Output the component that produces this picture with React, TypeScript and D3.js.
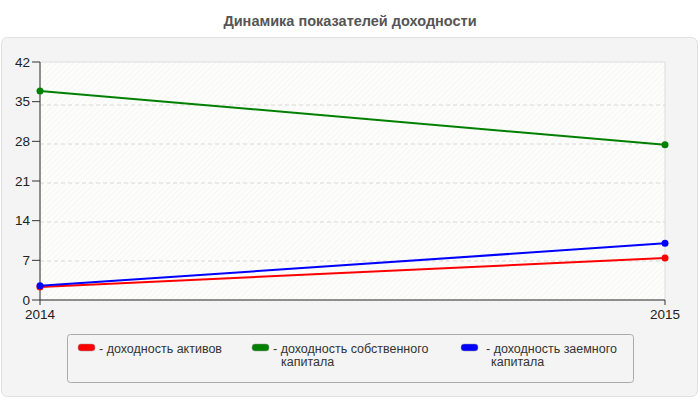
import React from "react";
import * as d3 from "d3";

const years = ["2014", "2015"];
const assetsReturn = [2.3, 7.4];
const equityReturn = [36.9, 27.4];
const debtReturn = [2.5, 10.0];
const yTicks = [0, 7, 14, 21, 28, 35, 42];

const seriesNames = [
  ["- доходность активов"],
  ["- доходность собственного", "капитала"],
  ["- доходность заемного", "капитала"],
];
const seriesColors = ["#ff0000", "#008000", "#0000ff"];
const seriesValues = [assetsReturn, equityReturn, debtReturn];

export default function App() {
  const W = 700, H = 400;
  const left = 40, right = 665, top = 62, bottom = 300;
  const x = d3.scalePoint<string>().domain(years).range([left, right]);
  const y = d3.scaleLinear().domain([0, 42]).range([bottom, top]);
  const yGrid = d3.scaleLinear().domain([0, 42]).range([bottom, top + 4]);
  const line = d3
    .line<number>()
    .x((_, i) => x(years[i]) as number)
    .y((d) => y(d));
  const font = "'Liberation Sans', Arial, sans-serif";
  const legendX = [78, 252, 461];
  const legendTextX = [99, 273, 486];
  const legendText2X = [99, 281, 491];

  return (
    <svg
      width={W}
      height={H}
      style={{ position: "absolute", left: 0, top: 0 }}
      fontFamily={font}
    >
      <defs>
        <pattern id="hatch" width="4" height="4" patternUnits="userSpaceOnUse" patternTransform="rotate(45)">
          <rect width="4" height="4" fill="#fdfdfb" />
          <line x1="0" y1="0" x2="0" y2="4" stroke="#efefed" strokeWidth="1" />
        </pattern>
      </defs>
      <rect x={0} y={0} width={W} height={H} fill="#ffffff" />
      <text x={350} y={26} textAnchor="middle" fontSize={14.5} fontWeight="bold" fill="#555">
        Динамика показателей доходности
      </text>
      <rect x={1.5} y={37.5} width={696} height={359} rx={6} fill="#f4f4f4" stroke="#e0e0e0" />
      <rect x={left} y={top} width={right - left} height={bottom - top} fill="url(#hatch)" stroke="#dddddd" />
      {yTicks.slice(1, -1).map((t) => (
        <line key={t} x1={left} x2={right} y1={yGrid(t)} y2={yGrid(t)} stroke="#d8d8d8" strokeDasharray="4,3" />
      ))}
      <line x1={left} x2={left} y1={top} y2={bottom} stroke="#333" />
      <line x1={left} x2={right} y1={bottom} y2={bottom} stroke="#333" />
      {yTicks.map((t) => (
        <g key={t}>
          <line x1={left - 8} x2={left} y1={y(t)} y2={y(t)} stroke="#333" />
          <text x={left - 10} y={y(t) + 4.5} textAnchor="end" fontSize={13.5} fill="#222">
            {t}
          </text>
        </g>
      ))}
      {years.map((yr) => (
        <g key={yr}>
          <line x1={x(yr)} x2={x(yr)} y1={bottom} y2={bottom + 5} stroke="#333" />
          <text x={x(yr)} y={bottom + 19} textAnchor="middle" fontSize={13.5} fill="#222">
            {yr}
          </text>
        </g>
      ))}
      {seriesValues.map((vals, si) => (
        <g key={si}>
          <path d={line(vals) || ""} fill="none" stroke={seriesColors[si]} strokeWidth={2} />
          {vals.map((v, i) => (
            <circle key={i} cx={x(years[i])} cy={y(v)} r={3.5} fill={seriesColors[si]} />
          ))}
        </g>
      ))}
      <rect x={67.5} y={334.5} width={566} height={48} rx={3} fill="#f4f4f4" stroke="#aaaaaa" />
      {seriesNames.map((lines, i) => (
        <g key={i}>
          <rect x={legendX[i]} y={344} width={17} height={7} rx={3} fill={seriesColors[i]} stroke="#999" strokeWidth={0.5} />
          <text fontSize={12.5} fill="#333">
            {lines.map((l, j) => (
              <tspan key={j} x={j === 0 ? legendTextX[i] : legendText2X[i]} y={353 + j * 13}>
                {l}
              </tspan>
            ))}
          </text>
        </g>
      ))}
    </svg>
  );
}
